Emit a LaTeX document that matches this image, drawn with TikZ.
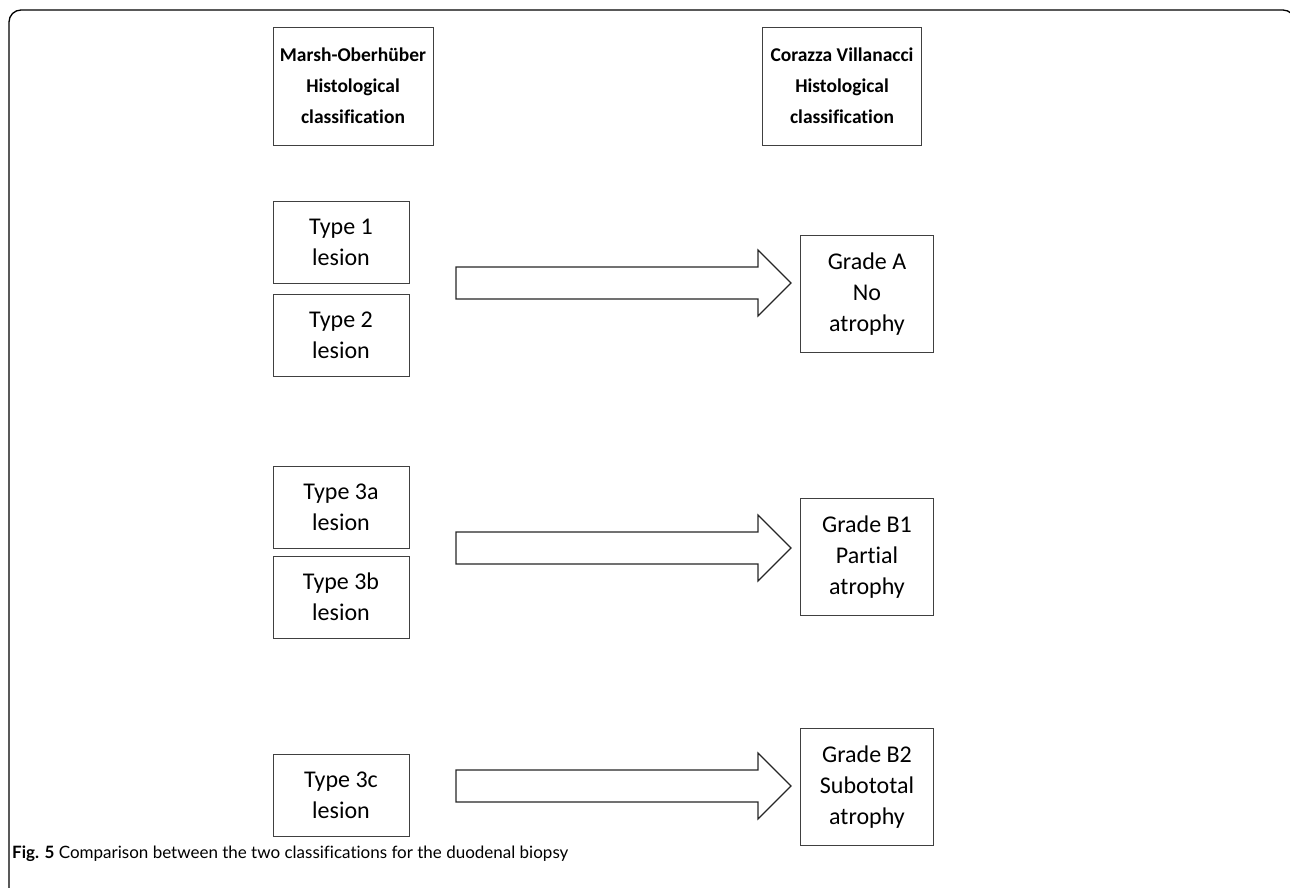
\documentclass[tikz,border=0pt]{standalone}
\usepackage{fontspec}
\setmainfont{Carlito}[Ligatures=NoCommon]
\newfontfamily\capfont{Lato}[Ligatures=NoCommon]
\begin{document}
\begin{tikzpicture}[x=1pt,y=-1pt,
  box/.style={draw=black!75, line width=1pt, fill=white, align=center, inner sep=0pt,
    font=\fontsize{24}{31}\selectfont},
  hbox/.style={box, font=\bfseries\fontsize{19.5}{31}\selectfont},
  fatarrow/.style={draw=black!85, line width=1.2pt, fill=white, line join=miter}]
\useasboundingbox (0,0) rectangle (1290,887);
\draw[line width=1.3pt, rounded corners=12pt] (9,900) -- (9,10) -- (1295,10) -- (1295,900);

% headers
\node[hbox, minimum width=160pt, minimum height=118pt] (h1) at (353,86)
  {Marsh-Oberhüber\\Histological\\classification};
\node[hbox, minimum width=159pt, minimum height=118pt] (h2) at (842,86)
  {Corazza Villanacci\\Histological\\classification};

% left column
\node[box, minimum width=136pt, minimum height=82pt] (t1) at (341,242) {Type 1\\lesion};
\node[box, minimum width=136pt, minimum height=82pt] (t2) at (341,335) {Type 2\\lesion};
\node[box, minimum width=136pt, minimum height=82pt] (t3a) at (341,507) {Type 3a\\lesion};
\node[box, minimum width=136pt, minimum height=82pt] (t3b) at (341,597) {Type 3b\\lesion};
\node[box, minimum width=136pt, minimum height=82pt] (t3c) at (341,795) {Type 3c\\lesion};

% right column
\node[box, minimum width=133pt, minimum height=117pt] (ga) at (867,294) {Grade A\\No\\atrophy};
\node[box, minimum width=133pt, minimum height=117pt] (gb1) at (867,557) {Grade B1\\Partial\\atrophy};
\node[box, minimum width=133pt, minimum height=117pt] (gb2) at (867,787) {Grade B2\\Subototal\\atrophy};

% block arrows
\foreach \yc/\nm in {283/a1, 548/a2, 786/a3}{
  \draw[fatarrow] (456,\yc-16) -- (758,\yc-16) -- (758,\yc-33) -- (791,\yc)
    -- (758,\yc+33) -- (758,\yc+16) -- (456,\yc+16) -- cycle;
}

% caption
\node[anchor=base west, inner sep=0pt, font=\capfont\fontsize{17}{21}\selectfont] (cap) at (12,858)
  {\textbf{Fig. 5} Comparison between the two classifications for the duodenal biopsy};
\end{tikzpicture}
\end{document}
